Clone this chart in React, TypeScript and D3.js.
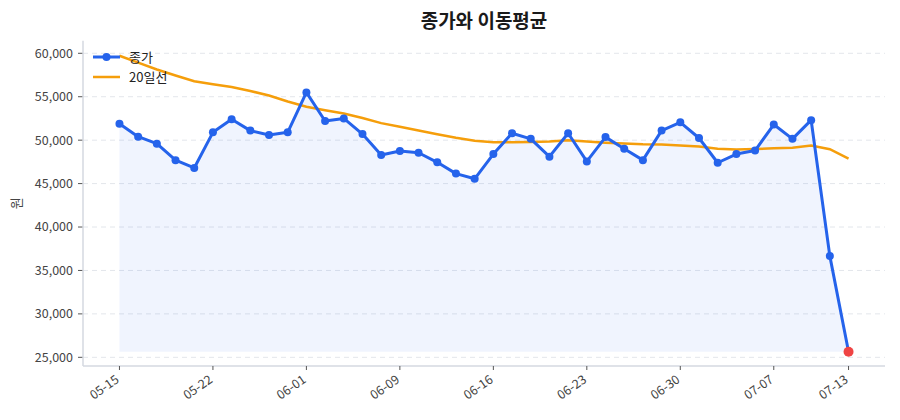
import React from "react";
import * as d3 from "d3";

const dates = [
  "05-15","05-16","05-19","05-20","05-21","05-22","05-23","05-26","05-27","05-28",
  "06-01","06-02","06-04","06-05","06-06","06-09","06-10","06-11","06-12","06-13",
  "06-16","06-17","06-18","06-19","06-20","06-23","06-24","06-25","06-26","06-27",
  "06-30","07-01","07-02","07-03","07-04","07-07","07-08","07-09","07-11","07-13",
];
const close = [
  51900, 50400, 49600, 47700, 46800, 50900, 52400, 51100, 50600, 50900,
  55500, 52200, 52500, 50700, 48300, 48750, 48550, 47450, 46150, 45550,
  48400, 50800, 50150, 48100, 50800, 47550, 50350, 49000, 47700, 51100,
  52050, 50250, 47400, 48400, 48800, 51800, 50150, 52300, 36650, 25650,
];
const ma20 = [
  59720, 58920, 58130, 57440, 56790, 56430, 56110, 55660, 55140, 54450,
  53840, 53440, 53070, 52560, 51960, 51550, 51120, 50690, 50280, 49930,
  49750, 49770, 49800, 49850, 49990, 49850, 49710, 49610, 49520, 49500,
  49390, 49260, 49020, 48930, 48980, 49060, 49130, 49370, 48960, 47870,
];
const tickIdx = [0, 5, 10, 15, 20, 25, 30, 35, 39];
const yTicks = [25000, 30000, 35000, 40000, 45000, 50000, 55000, 60000];

const W = 900, H = 420;
const L = 83, R = 885, T = 40.7, B = 366;
const FONT = "'Noto Sans CJK KR', 'Noto Sans', sans-serif";

export default function App() {
  const x = d3.scaleLinear().domain([-1.95, 40.95]).range([L, R]);
  const y = d3.scaleLinear().domain([24000, 61450]).range([B, T]);
  const minV = d3.min(close) as number;

  const line = d3.line<number>().x((_, i) => x(i)).y((d) => y(d));
  const area = d3.area<number>().x((_, i) => x(i)).y0(y(minV)).y1((d) => y(d));
  const fmt = d3.format(",");
  const last = close.length - 1;

  return (
    <svg width={W} height={H} style={{ display: "block", margin: "-8px" }} fontFamily={FONT}>
      <rect width={W} height={H} fill="#fff" />
      <text x={(L + R) / 2} y={28} textAnchor="middle" fontSize={19} fontWeight="bold" fill="#1a1a1a">
        종가와 이동평균
      </text>
      {yTicks.map((t) => (
        <g key={t}>
          <line x1={L} x2={R} y1={y(t)} y2={y(t)} stroke="#e3e6eb" strokeDasharray="5,4" strokeWidth={1} />
          <line x1={L - 5} x2={L} y1={y(t)} y2={y(t)} stroke="#555" strokeWidth={1} />
          <text x={L - 10} y={y(t)} dy="0.35em" textAnchor="end" fontSize={12.5} fill="#444">
            {fmt(t)}
          </text>
        </g>
      ))}
      <line x1={L} x2={L} y1={T} y2={B} stroke="#d5d9e0" strokeWidth={1.5} />
      <line x1={L} x2={R} y1={B} y2={B} stroke="#d5d9e0" strokeWidth={1.5} />
      {tickIdx.map((i) => (
        <g key={i}>
          <line x1={x(i)} x2={x(i)} y1={B} y2={B + 4} stroke="#555" strokeWidth={1} />
          <text
            transform={`translate(${x(i) - 2},${B + 12}) rotate(-35)`}
            textAnchor="end"
            dy="0.35em"
            fontSize={12.5}
            fill="#444"
          >
            {dates[i]}
          </text>
        </g>
      ))}
      <text transform={`translate(21,${(T + B) / 2}) rotate(-90)`} textAnchor="middle" fontSize={13} fill="#444">
        원
      </text>
      <path d={area(close) || ""} fill="#2563eb" fillOpacity={0.07} />
      <path d={line(ma20) || ""} fill="none" stroke="#f59e0b" strokeWidth={2.5} />
      <path d={line(close) || ""} fill="none" stroke="#2563eb" strokeWidth={3} strokeLinejoin="round" />
      {close.slice(0, last).map((v, i) => (
        <circle key={i} cx={x(i)} cy={y(v)} r={4} fill="#2563eb" />
      ))}
      <circle cx={x(last)} cy={y(close[last])} r={5} fill="#ef4444" />
      <g>
        <line x1={93} x2={120} y1={57} y2={57} stroke="#2563eb" strokeWidth={3} />
        <circle cx={106.5} cy={57} r={4} fill="#2563eb" />
        <text x={129} y={57} dy="0.35em" fontSize={13} fill="#222">종가</text>
        <line x1={93} x2={120} y1={77} y2={77} stroke="#f59e0b" strokeWidth={2.5} />
        <text x={129} y={77} dy="0.35em" fontSize={13} fill="#222">20일선</text>
      </g>
    </svg>
  );
}
